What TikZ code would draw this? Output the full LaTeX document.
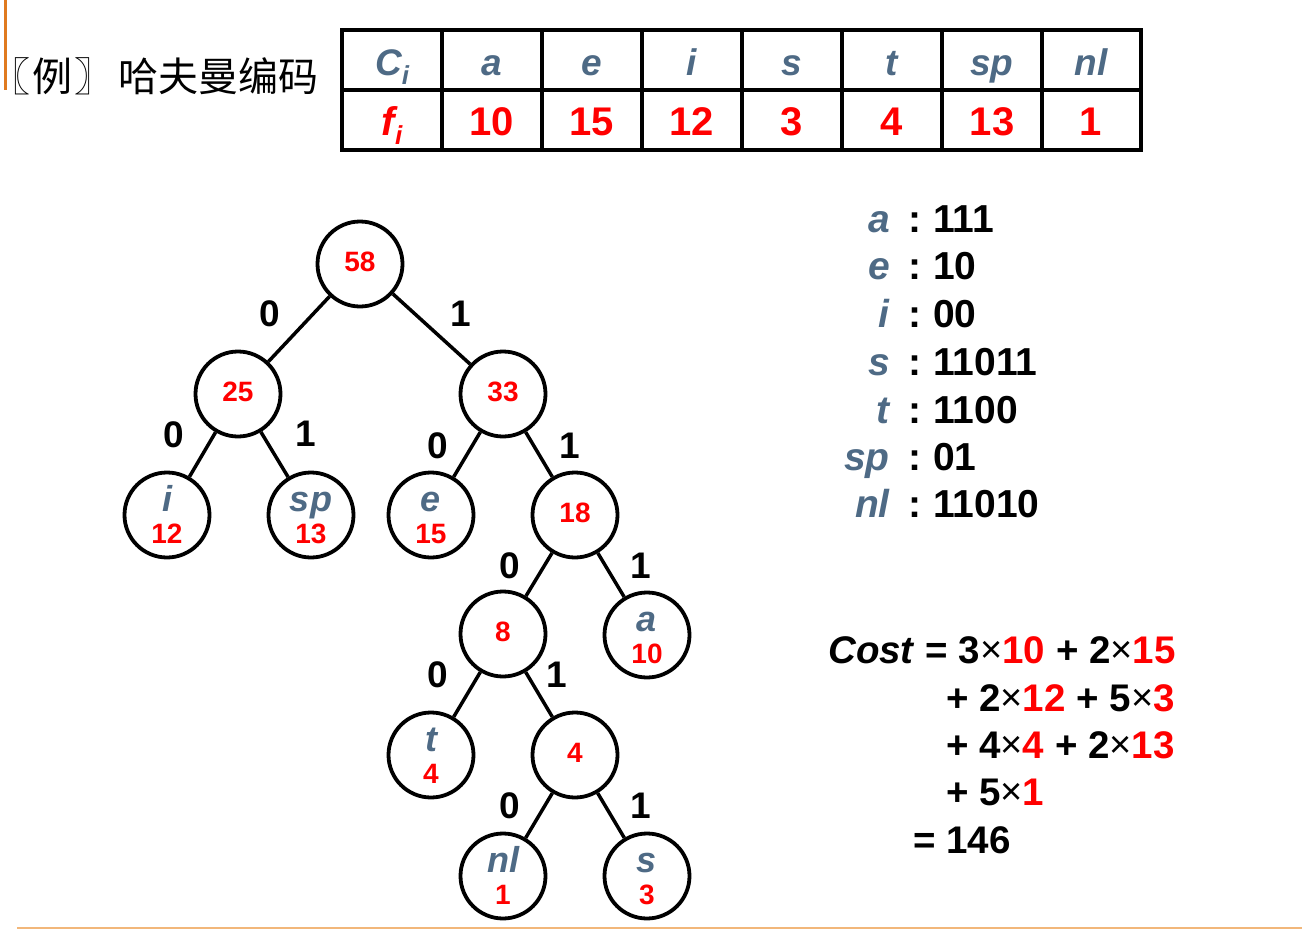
\documentclass[tikz,border=0pt]{standalone}
\usepackage{fontspec}
\setmainfont{Liberation Sans}
\newfontfamily\cjk{Noto Sans CJK SC}
\newfontfamily\cjkhalf{Noto Sans CJK SC}[RawFeature=+halt]
\definecolor{slate}{HTML}{4E6A85}
\definecolor{hred}{HTML}{FF0000}
\definecolor{orng}{HTML}{E07A1F}
\definecolor{orngl}{HTML}{F2B77A}
\newcommand\fsz[1]{\fontsize{#1}{#1}\selectfont}
\newcommand\tm{{\fsz{38}\mdseries\raisebox{1pt}{×}}}
\newcommand\rd[1]{\textcolor{hred}{#1}}
\begin{document}
\begin{tikzpicture}[x=1pt,y=-1pt,
  circ/.style={circle,draw,line width=3.8pt,minimum size=85pt,inner sep=0pt},
  edgeline/.style={line width=3.5pt},
  elab/.style={font=\fsz{37}\bfseries,inner sep=0pt},
  lett/.style={font=\fsz{36}\bfseries\itshape,text=slate,inner sep=0pt,anchor=base},
  num/.style={font=\fsz{28}\bfseries,text=hred,inner sep=0pt,anchor=base},
  thead/.style={font=\fsz{37}\bfseries\itshape,text=slate,inner sep=0pt,anchor=base},
  tnum/.style={font=\fsz{40}\bfseries,text=hred,inner sep=0pt,anchor=base},
  codel/.style={font=\fsz{39}\bfseries\itshape,text=slate,inner sep=0pt,anchor=base east},
  codec/.style={font=\fsz{39}\bfseries,inner sep=0pt,anchor=base},
  codev/.style={font=\fsz{39}\bfseries,inner sep=0pt,anchor=base west},
  costl/.style={font=\fsz{38.5}\bfseries,inner sep=0pt,anchor=base west},
  title/.style={font=\cjk\fsz{40},inner sep=0pt}]
\useasboundingbox (0,0) rectangle (1302,929);
% decorations
\draw[orng,line width=3pt] (5,0) -- (5,90);
\draw[orngl,line width=1.5pt] (17,928) -- (1302,928);
% title
\node[title,anchor=west] (title) at (10,76)
  {{\cjkhalf 〖}\kern2pt 例\kern2pt{\cjkhalf 〗}\kern24pt 哈夫曼编码};
% table
\draw[line width=3.5pt] (342,30) rectangle (1141,150);
\draw[line width=3.5pt] (342,90) -- (1141,90);
\foreach \xx in {442,542,642,742,842,942,1042}
  \draw[line width=3.5pt] (\xx,30) -- (\xx,150);
\node[thead] (hC) at (392,75) {C\raisebox{-9pt}{\fsz{26}i}};
\node[thead] (ha) at (492,75) {a};
\node[thead] (he) at (592,75) {e};
\node[thead] (hi) at (692,75) {i};
\node[thead] (hs) at (792,75) {s};
\node[thead] (ht) at (892,75) {t};
\node[thead] (hsp) at (992,75) {sp};
\node[thead] (hnl) at (1091,75) {nl};
\node[tnum] (fF) at (392,135) {\itshape f\raisebox{-9pt}{\fsz{26}i}};
\node[tnum] (fa) at (492,135) {10};
\node[tnum] (fe) at (592,135) {15};
\node[tnum] (fi) at (692,135) {12};
\node[tnum] (fs) at (792,135) {3};
\node[tnum] (ft) at (892,135) {4};
\node[tnum] (fsp) at (992,135) {13};
\node[tnum] (fnl) at (1091,135) {1};
% tree nodes
\node[circ] (n58) at (360,264) {};
\node[circ] (n25) at (238,394) {};
\node[circ] (n33) at (503,394) {};
\node[circ] (ni)  at (167,515) {};
\node[circ] (nsp) at (311,515) {};
\node[circ] (ne)  at (431,515) {};
\node[circ] (n18) at (575,515) {};
\node[circ] (n8)  at (503,634) {};
\node[circ] (na)  at (647,635) {};
\node[circ] (nt)  at (431,755) {};
\node[circ] (n4)  at (575,755) {};
\node[circ] (nnl) at (503,876) {};
\node[circ] (ns)  at (647,876) {};
% internal numbers
\node[num] (v58) at (360,271) {58};
\node[num] (v25) at (238,401) {25};
\node[num] (v33) at (503,401) {33};
\node[num] (v18) at (575,522) {18};
\node[num] (v8)  at (503,641) {8};
\node[num] (v4)  at (575,762) {4};
% leaves
\node[lett] (li)  at (167,511) {i};   \node[num] (vi)  at (167,543) {12};
\node[lett] (lsp) at (311,511) {sp};  \node[num] (vsp) at (311,543) {13};
\node[lett] (le)  at (431,511) {e};   \node[num] (ve)  at (431,543) {15};
\node[lett] (la)  at (647,631) {a};   \node[num] (va)  at (647,663) {10};
\node[lett] (lt)  at (431,751) {t};   \node[num] (vt)  at (431,783) {4};
\node[lett] (lnl) at (503,872) {nl};  \node[num] (vnl) at (503,904) {1};
\node[lett] (ls)  at (647,872) {s};   \node[num] (vs)  at (647,904) {3};
% edges
\draw[edgeline] (n58) -- (n25);
\draw[edgeline] (n58) -- (n33);
\draw[edgeline] (n25) -- (ni);
\draw[edgeline] (n25) -- (nsp);
\draw[edgeline] (n33) -- (ne);
\draw[edgeline] (n33) -- (n18);
\draw[edgeline] (n18) -- (n8);
\draw[edgeline] (n18) -- (na);
\draw[edgeline] (n8) -- (nt);
\draw[edgeline] (n8) -- (n4);
\draw[edgeline] (n4) -- (nnl);
\draw[edgeline] (n4) -- (ns);
% edge labels
\node[elab] (e1) at (270,314) {0};
\node[elab] (e2) at (461,314) {1};
\node[elab] (e3) at (174,435) {0};
\node[elab] (e4) at (306,434) {1};
\node[elab] (e5) at (438,446) {0};
\node[elab] (e6) at (570,446) {1};
\node[elab] (e7) at (510,566) {0};
\node[elab] (e8) at (641,566) {1};
\node[elab] (e9) at (438,675) {0};
\node[elab] (e10) at (557,675) {1};
\node[elab] (e11) at (510,806) {0};
\node[elab] (e12) at (641,806) {1};
% code list
\foreach \nm/\lt/\cd/\yy in {ca/a/111/232, ce/e/10/279, ci/i/00/327, cs/s/11011/375, ct/t/1100/423, csp/sp/01/470, cnl/nl/11010/517}{
  \node[codel] (\nm-l) at (890,\yy) {\lt};
  \node[codec] (\nm-c) at (915,\yy) {:};
  \node[codev] (\nm-v) at (933,\yy) {\cd};
}
% cost
\node[costl] (cost1) at (828,663) {\textit{Cost} = 3\tm\rd{10} + 2\tm\rd{15}};
\node[costl] (cost2) at (946,711) {+ 2\tm\rd{12} + 5\tm\rd{3}};
\node[costl] (cost3) at (946,758) {+ 4\tm\rd{4} + 2\tm\rd{13}};
\node[costl] (cost4) at (946,805) {+ 5\tm\rd{1}};
\node[costl] (cost5) at (913,853) {= 146};
\end{tikzpicture}
\end{document}
